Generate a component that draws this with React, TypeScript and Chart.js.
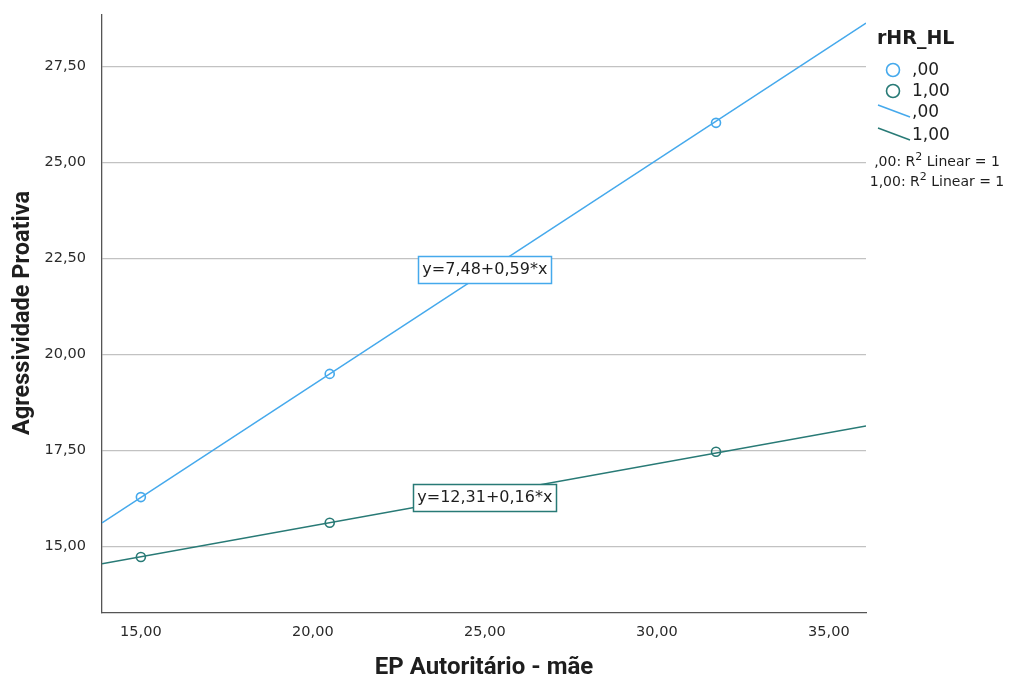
import React, { useEffect, useRef } from "react";
import { Chart, registerables } from "chart.js";

Chart.register(...registerables);

// ---- data ----
const groupNames = [",00", "1,00"];
const xValues = [15.0, 20.49, 31.72];
const yGroup0 = [16.28, 19.49, 26.03];
const yGroup1 = [14.72, 15.61, 17.46];
const fitX = [13.87, 36.08];
const fitY0 = [15.61, 28.63];
const fitY1 = [14.54, 18.13];
const eqLabels = ["y=7,48+0,59*x", "y=12,31+0,16*x"];
const eqAnchorX = [25, 25];
const eqAnchorY = [22.22, 16.28];
const xTicks = [15, 20, 25, 30, 35];
const yTicks = [15, 17.5, 20, 22.5, 25, 27.5];
const xRange = [13.87, 36.08];
const yRange = [13.26, 28.84];
const xTitle = "EP Autoritário - mãe";
const yTitle = "Agressividade Proativa";
const legendTitle = "rHR_HL";

const BLUE = "#45a9ec";
const TEAL = "#287a76";
const colors = [BLUE, TEAL];
const FONT = '"DejaVu Sans", sans-serif';
const TITLEFONT = 'Roboto, sans-serif';

const fmt = (v: number) => v.toFixed(2).replace(".", ",");

const overlay = {
  id: "overlay",
  afterDatasetsDraw(chart: any) {
    const ctx = chart.ctx;
    const xs = chart.scales.x;
    const ys = chart.scales.y;
    ctx.save();
    ctx.font = `16px ${FONT}`;
    ctx.textBaseline = "middle";
    ctx.textAlign = "center";
    eqLabels.forEach((t, i) => {
      const cx = xs.getPixelForValue(eqAnchorX[i]);
      const cy = ys.getPixelForValue(eqAnchorY[i]);
      const w = Math.round(ctx.measureText(t).width + 8);
      const h = 27;
      const lx = Math.round(cx - w / 2);
      const ty = Math.round(cy - h / 2);
      ctx.fillStyle = "#ffffff";
      ctx.fillRect(lx, ty, w, h);
      ctx.strokeStyle = colors[i];
      ctx.lineWidth = 1.5;
      ctx.strokeRect(lx + 0.5, ty + 0.5, w, h);
      ctx.fillStyle = "#1e1e1e";
      ctx.fillText(t, cx, cy + 1);
    });
    ctx.restore();
  },
  afterDraw(chart: any) {
    const ctx = chart.ctx;
    ctx.save();
    // axis titles
    ctx.fillStyle = "#1e1e1e";
    ctx.font = `bold 24px ${TITLEFONT}`;
    ctx.textAlign = "center";
    ctx.textBaseline = "middle";
    ctx.fillText(xTitle, 484, 668);
    ctx.save();
    ctx.translate(23, 313);
    ctx.rotate(-Math.PI / 2);
    ctx.font = `bold 23.5px ${TITLEFONT}`;
    ctx.fillText(yTitle, 0, 0);
    ctx.restore();

    // legend
    ctx.textAlign = "left";
    ctx.font = `bold 19px ${FONT}`;
    ctx.fillText(legendTitle, 877, 39);
    ctx.font = `17px ${FONT}`;
    const circY = [70, 91];
    groupNames.forEach((g, i) => {
      ctx.beginPath();
      ctx.arc(893, circY[i], 6.5, 0, Math.PI * 2);
      ctx.strokeStyle = colors[i];
      ctx.lineWidth = 1.6;
      ctx.stroke();
      ctx.fillStyle = "#1e1e1e";
      ctx.fillText(g, 912, circY[i] + 1);
    });
    const lineY = [112, 135];
    groupNames.forEach((g, i) => {
      ctx.beginPath();
      ctx.moveTo(878, lineY[i] - 7);
      ctx.lineTo(910, lineY[i] + 5);
      ctx.strokeStyle = colors[i];
      ctx.lineWidth = 1.5;
      ctx.stroke();
      ctx.fillStyle = "#1e1e1e";
      ctx.fillText(g, 912, lineY[i] + 1);
    });
    // R^2 notes
    const rY = [162, 182];
    groupNames.forEach((g, i) => {
      const a = `${g}: R`;
      const b = "2";
      const c = " Linear = 1";
      ctx.font = `14px ${FONT}`;
      const wa = ctx.measureText(a).width;
      const wc = ctx.measureText(c).width;
      ctx.font = `11px ${FONT}`;
      const wb = ctx.measureText(b).width;
      const total = wa + wb + wc;
      let x = 937 - total / 2;
      ctx.fillStyle = "#1e1e1e";
      ctx.font = `14px ${FONT}`;
      ctx.fillText(a, x, rY[i]);
      x += wa;
      ctx.font = `11px ${FONT}`;
      ctx.fillText(b, x, rY[i] - 5);
      x += wb;
      ctx.font = `14px ${FONT}`;
      ctx.fillText(c, x, rY[i]);
    });
    ctx.restore();
  },
};

export default function App() {
  const ref = useRef<HTMLCanvasElement>(null);
  useEffect(() => {
    if (!ref.current) return;
    const pts = (ys: number[]) => xValues.map((x, i) => ({ x, y: ys[i] }));
    const fit = (ys: number[]) => fitX.map((x, i) => ({ x, y: ys[i] }));
    const chart = new Chart(ref.current, {
      type: "scatter",
      data: {
        datasets: [
          {
            label: groupNames[0] + " pts",
            data: pts(yGroup0),
            borderColor: BLUE,
            backgroundColor: "rgba(0,0,0,0)",
            pointRadius: 4.5,
            pointBorderWidth: 1.6,
            order: 0,
          },
          {
            label: groupNames[1] + " pts",
            data: pts(yGroup1),
            borderColor: TEAL,
            backgroundColor: "rgba(0,0,0,0)",
            pointRadius: 4.5,
            pointBorderWidth: 1.6,
            order: 0,
          },
          {
            type: "line",
            label: groupNames[0] + " fit",
            data: fit(fitY0),
            borderColor: BLUE,
            borderWidth: 1.5,
            pointRadius: 0,
            showLine: true,
            order: 1,
          } as any,
          {
            type: "line",
            label: groupNames[1] + " fit",
            data: fit(fitY1),
            borderColor: TEAL,
            borderWidth: 1.5,
            pointRadius: 0,
            showLine: true,
            order: 1,
          } as any,
        ],
      },
      options: {
        responsive: false,
        animation: false,
        devicePixelRatio: 1,
        layout: { padding: { left: 0, right: 144, top: 15, bottom: 0 } },
        plugins: { legend: { display: false }, tooltip: { enabled: false } },
        scales: {
          x: {
            type: "linear",
            min: xRange[0],
            max: xRange[1],
            afterBuildTicks: (s: any) => {
              s.ticks = xTicks.map((v) => ({ value: v }));
            },
            afterFit: (s: any) => {
              s.height = 69;
              s.paddingLeft = 0;
              s.paddingRight = 0;
            },
            grid: { display: false, drawTicks: false },
            border: { display: true, color: "#555", width: 1.3 },
            ticks: {
              padding: 11,
              color: "#2a2a2a",
              font: { family: FONT, size: 14.5 },
              callback: (v: any) => fmt(Number(v)),
              maxRotation: 0,
              autoSkip: false,
            },
          },
          y: {
            type: "linear",
            min: yRange[0],
            max: yRange[1],
            afterBuildTicks: (s: any) => {
              s.ticks = yTicks.map((v) => ({ value: v }));
            },
            afterFit: (s: any) => {
              s.width = 102;
              s.paddingTop = 0;
              s.paddingBottom = 0;
            },
            grid: { display: true, color: "#c2c2c2", lineWidth: 1.3, drawTicks: false },
            border: { display: true, color: "#555", width: 1.3 },
            ticks: {
              padding: 16,
              color: "#2a2a2a",
              font: { family: FONT, size: 14.5 },
              callback: (v: any) => fmt(Number(v)),
              autoSkip: false,
            },
          },
        },
      },
      plugins: [overlay],
    } as any);
    return () => chart.destroy();
  }, []);
  return (
    <div style={{ position: "fixed", left: 0, top: 0, width: 1010, height: 682, background: "#fff" }}>
      <canvas ref={ref} width={1010} height={682} style={{ width: 1010, height: 682 }} />
    </div>
  );
}
